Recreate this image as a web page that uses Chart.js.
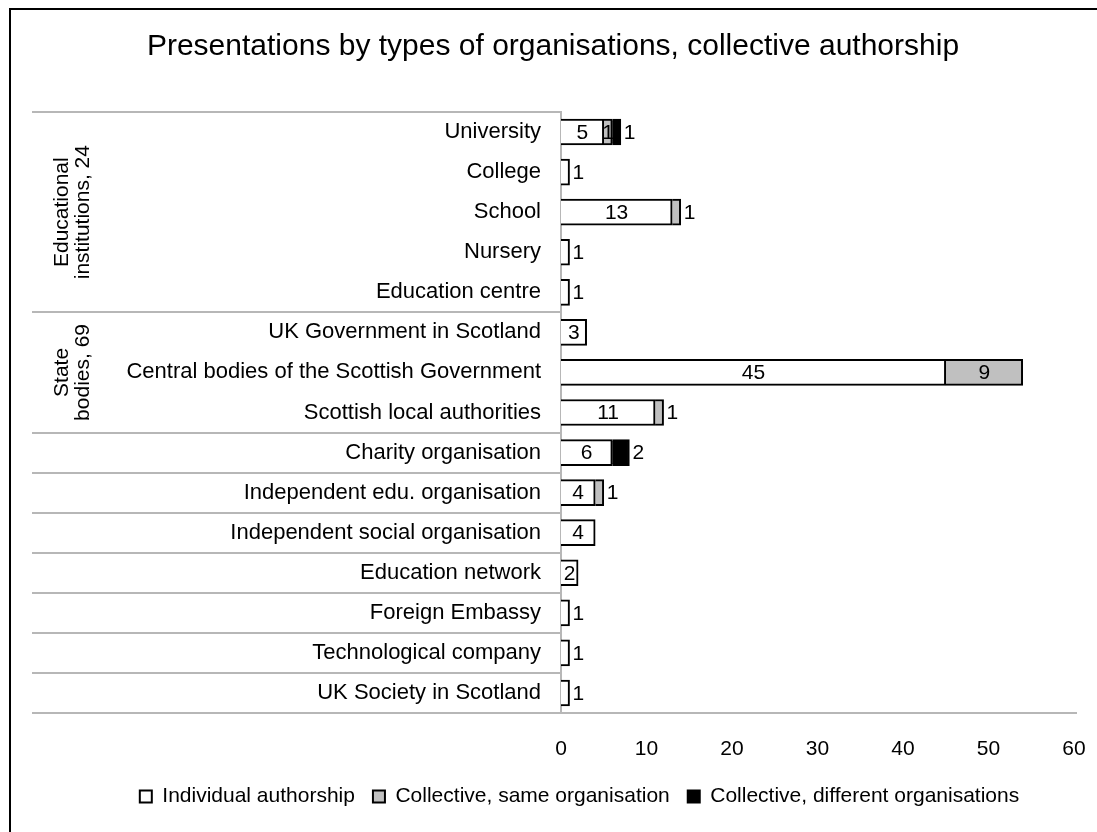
<!DOCTYPE html>
<html>
<head>
<meta charset="utf-8">
<script src="https://cdn.jsdelivr.net/npm/chart.js@4.4.0/dist/chart.umd.min.js"></script>
<style>
  html, body { margin: 0; padding: 0; background: #fff; }
  #wrap { width: 1097px; height: 832px; position: relative; }
</style>
</head>
<body>
<div id="wrap"><canvas id="chart"></canvas></div>
<script>
// data
const categories = [
  'University', 'College', 'School', 'Nursery', 'Education centre',
  'UK Government in Scotland', 'Central bodies of the Scottish Government', 'Scottish local authorities',
  'Charity organisation', 'Independent edu. organisation', 'Independent social organisation',
  'Education network', 'Foreign Embassy', 'Technological company', 'UK Society in Scotland'
];
const individual = [5, 1, 13, 1, 1, 3, 45, 11, 6, 4, 4, 2, 1, 1, 1];
const sameOrg    = [1, 0, 1, 0, 0, 0, 9, 1, 0, 1, 0, 0, 0, 0, 0];
const diffOrg    = [1, 0, 0, 0, 0, 0, 0, 0, 2, 0, 0, 0, 0, 0, 0];
const seriesNames = ['Individual authorship', 'Collective, same organisation', 'Collective, different organisations'];
const chartTitle = 'Presentations by types of organisations, collective authorship';
const xMax = 60;
const xStep = 10;

// row groups on the left
const groupLabels = [['Educational', 'institutions, 24'], ['State', 'bodies, 69']];
const groupSpans = [[0, 4], [5, 7]];
const rowBreaks = [0, 5, 8, 9, 10, 11, 12, 13, 14, 15];

const FONT = "'Liberation Sans', Arial, sans-serif";
Chart.defaults.color = '#000';
Chart.defaults.font.family = FONT;

const decor = {
  id: 'decor',
  beforeDraw(chart) {
    const ctx = chart.ctx;
    ctx.save();
    ctx.fillStyle = '#fff';
    ctx.fillRect(0, 0, chart.width, chart.height);
    ctx.restore();
  },
  afterDraw(chart) {
    const { ctx, chartArea } = chart;
    const y = chart.scales.y;
    const half = (y.getPixelForValue(1) - y.getPixelForValue(0)) / 2;
    ctx.save();
    // title (drawn here so the legend can sit off-centre like the original)
    ctx.fillStyle = '#000';
    ctx.font = '30px ' + FONT;
    ctx.textAlign = 'center';
    ctx.textBaseline = 'middle';
    ctx.fillText(chartTitle, 553, 47);
    // separators
    ctx.strokeStyle = '#b7b7b7';
    ctx.lineWidth = 2;
    rowBreaks.forEach(i => {
      const py = Math.round(y.getPixelForValue(i) - half);
      const end = i === categories.length ? chartArea.right + 3 : chartArea.left;
      ctx.beginPath();
      ctx.moveTo(32, py);
      ctx.lineTo(end, py);
      ctx.stroke();
    });
    // rotated group labels
    ctx.font = '21px ' + FONT;
    groupSpans.forEach((span, g) => {
      const yc = (y.getPixelForValue(span[0]) + y.getPixelForValue(span[1])) / 2;
      ctx.save();
      ctx.translate(73, yc);
      ctx.rotate(-Math.PI / 2);
      const lines = groupLabels[g];
      lines.forEach((t, k) => ctx.fillText(t, 0, (k - (lines.length - 1) / 2) * 21));
      ctx.restore();
    });
    // outer frame
    ctx.strokeStyle = '#000';
    ctx.lineWidth = 2;
    ctx.strokeRect(10, 9, chart.width + 20, chart.height + 20);
    ctx.restore();
  },
  afterDatasetsDraw(chart) {
    const ctx = chart.ctx;
    ctx.save();
    ctx.font = '21px ' + FONT;
    ctx.fillStyle = '#000';
    ctx.textBaseline = 'middle';
    const sets = chart.data.datasets;
    categories.forEach((c, i) => {
      let last = -1;
      sets.forEach((ds, d) => { if (ds.data[i] > 0) last = d; });
      sets.forEach((ds, d) => {
        const v = ds.data[i];
        if (!v) return;
        const bar = chart.getDatasetMeta(d).data[i];
        const left = Math.min(bar.base, bar.x);
        const right = Math.max(bar.base, bar.x);
        const txt = String(v);
        const tw = ctx.measureText(txt).width;
        const outside = d === last && (right - left < tw + 2 || ds.backgroundColor === '#000000');
        if (outside) {
          ctx.textAlign = 'left';
          ctx.fillText(txt, right + 3, bar.y + 1);
        } else {
          ctx.textAlign = 'center';
          ctx.fillText(txt, (left + right) / 2, bar.y + 1);
        }
      });
    });
    ctx.restore();
  }
};

new Chart(document.getElementById('chart'), {
  type: 'bar',
  data: {
    labels: categories,
    datasets: [
      { label: seriesNames[0], data: individual, backgroundColor: '#ffffff', borderColor: '#000', borderWidth: 2 },
      { label: seriesNames[1], data: sameOrg, backgroundColor: '#c0c0c0', borderColor: '#000', borderWidth: 2 },
      { label: seriesNames[2], data: diffOrg, backgroundColor: '#000000', borderColor: '#000', borderWidth: 2 }
    ]
  },
  options: {
    indexAxis: 'y',
    responsive: true,
    maintainAspectRatio: false,
    animation: false,
    events: [],
    datasets: { bar: { barThickness: 26 } },
    layout: { padding: { left: 62, right: 0, top: 112, bottom: 15 } },
    scales: {
      x: {
        stacked: true,
        min: 0,
        max: xMax,
        grid: { display: false, drawTicks: false },
        border: { display: false },
        ticks: { stepSize: xStep, padding: 24, font: { size: 21 } },
        afterFit(scale) { scale.height = 55; scale.paddingRight = 23; }
      },
      y: {
        stacked: true,
        grid: { display: false, drawTicks: false },
        border: { display: true, color: '#b7b7b7', width: 2 },
        ticks: { padding: 20, font: { size: 22 }, autoSkip: false },
        afterFit(scale) { scale.width = 499; }
      }
    },
    plugins: {
      title: { display: false },
      legend: {
        position: 'bottom',
        labels: { boxWidth: 12, boxHeight: 12, padding: 18, font: { size: 21 }, color: '#000' }
      },
      tooltip: { enabled: false }
    }
  },
  plugins: [decor]
});
</script>
</body>
</html>
